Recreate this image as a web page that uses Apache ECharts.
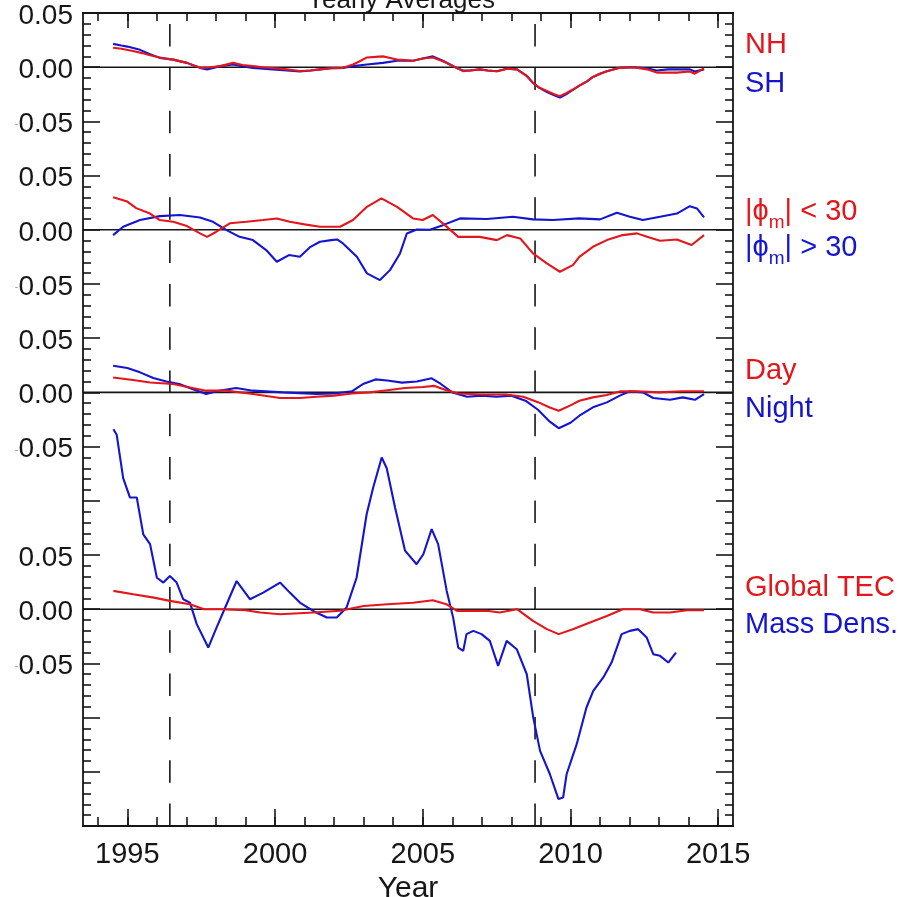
<!DOCTYPE html>
<html>
<head>
<meta charset="utf-8">
<script src="https://cdn.jsdelivr.net/npm/echarts@6/dist/echarts.min.js"></script>
<style>
  html, body { margin: 0; padding: 0; background: #fff; }
  #chart { width: 906px; height: 897px; }
</style>
</head>
<body>
<div id="chart"></div>
<script>
// ---- axis layout values ----
const yearRange = [1993.5, 2015.5];
const yearTicks = [1995, 2000, 2005, 2010, 2015];
const yearMinorTicks = [1994, 1995, 1996, 1997, 1998, 1999, 2000, 2001, 2002, 2003, 2004,
  2005, 2006, 2007, 2008, 2009, 2010, 2011, 2012, 2013, 2014, 2015];
const solarMinima = [1996.44, 2008.8];
// vertical offset of each stacked panel (top to bottom)
const panelOffsets = [0.70, 0.55, 0.40, 0.20];
const panelTickLabels = ['0.05', '0.00', '-0.05'];

// ---- panel 1: hemispheres ----
const nh = [[1994.52, 0.018], [1994.8, 0.017], [1995.19, 0.015], [1995.5, 0.013], [1995.77, 0.011],
  [1996.1, 0.009], [1996.3, 0.008], [1996.55, 0.007], [1997.02, 0.004], [1997.3, 0.001],
  [1997.5, -0.0006], [1997.8, 0.0], [1998.15, 0.001], [1998.58, 0.004], [1998.9, 0.002],
  [1999.25, 0.001], [1999.6, 0.0], [2000.0, -0.001], [2000.4, -0.002], [2000.84, -0.0035],
  [2001.2, -0.003], [2001.52, -0.002], [2001.9, -0.001], [2002.3, -0.0006], [2002.64, 0.0025],
  [2002.9, 0.006], [2003.11, 0.009], [2003.4, 0.0095], [2003.65, 0.010], [2003.9, 0.0085],
  [2004.13, 0.007], [2004.4, 0.0065], [2004.67, 0.006], [2005.0, 0.008], [2005.34, 0.009],
  [2005.68, 0.0055], [2005.95, 0.002], [2006.16, -0.0006], [2006.36, -0.0037], [2006.6, -0.003],
  [2006.93, -0.002], [2007.2, -0.003], [2007.51, -0.0037], [2007.85, -0.0015], [2008.19, -0.002],
  [2008.53, -0.0083], [2008.73, -0.0145], [2008.95, -0.019], [2009.2, -0.022], [2009.45, -0.025],
  [2009.64, -0.0267], [2009.85, -0.024], [2010.08, -0.0206], [2010.3, -0.017], [2010.56, -0.013],
  [2010.76, -0.009], [2011.0, -0.006], [2011.23, -0.0037], [2011.67, -0.0006], [2012.11, 0.0],
  [2012.59, -0.002], [2012.92, -0.005], [2013.3, -0.005], [2013.6, -0.005], [2014.04, -0.004],
  [2014.21, -0.006], [2014.52, -0.001]];
const sh = [[1994.52, 0.0215], [1994.8, 0.020], [1995.0, 0.019], [1995.43, 0.016], [1995.77, 0.012],
  [1996.1, 0.0086], [1996.55, 0.007], [1997.02, 0.004], [1997.46, -0.0006], [1997.7, -0.002],
  [1998.14, 0.001], [1998.58, 0.0025], [1998.9, 0.001], [1999.25, -0.0006], [1999.93, -0.002],
  [2000.4, -0.003], [2000.84, -0.004], [2001.2, -0.003], [2001.52, -0.002], [2001.9, -0.001],
  [2002.3, -0.0006], [2002.64, 0.001], [2003.11, 0.0025], [2003.65, 0.004], [2004.13, 0.006],
  [2004.67, 0.006], [2005.0, 0.008], [2005.34, 0.010], [2005.68, 0.006], [2005.95, 0.002],
  [2006.16, -0.001], [2006.36, -0.003], [2006.6, -0.003], [2006.93, -0.002], [2007.2, -0.003],
  [2007.51, -0.0037], [2007.85, -0.0015], [2008.19, -0.002], [2008.53, -0.0083], [2008.73, -0.0145],
  [2008.95, -0.019], [2009.2, -0.023], [2009.45, -0.026], [2009.64, -0.028], [2009.85, -0.025],
  [2010.08, -0.021], [2010.3, -0.017], [2010.56, -0.013], [2010.76, -0.009], [2011.0, -0.006],
  [2011.23, -0.0037], [2011.67, -0.0006], [2012.11, 0.0], [2012.59, -0.001], [2012.92, -0.003],
  [2013.3, -0.002], [2013.6, -0.002], [2014.04, -0.002], [2014.21, -0.004], [2014.52, -0.002]];

// ---- panel 2: magnetic latitude bands ----
const lowLat = [[1994.52, 0.030], [1995.0, 0.026], [1995.3, 0.020], [1995.77, 0.015], [1996.1, 0.009],
  [1996.55, 0.0074], [1997.02, 0.0034], [1997.46, -0.0033], [1997.7, -0.0065], [1998.0, -0.002],
  [1998.47, 0.006], [1999.03, 0.0074], [1999.6, 0.009], [2000.06, 0.0105], [2000.5, 0.0074],
  [2001.0, 0.005], [2001.52, 0.0028], [2002.2, 0.0028], [2002.64, 0.009], [2003.11, 0.0212],
  [2003.6, 0.029], [2004.13, 0.0212], [2004.67, 0.0105], [2005.0, 0.009], [2005.34, 0.0136],
  [2005.68, 0.0059], [2006.2, -0.0065], [2006.93, -0.0065], [2007.51, -0.0095], [2007.85, -0.0049],
  [2008.3, -0.008], [2008.73, -0.0218], [2009.2, -0.031], [2009.64, -0.0387], [2010.08, -0.0326],
  [2010.3, -0.0249], [2010.76, -0.0157], [2011.23, -0.0095], [2011.77, -0.0049], [2012.25, -0.0033],
  [2012.59, -0.0065], [2013.03, -0.0101], [2013.6, -0.0089], [2014.1, -0.014], [2014.52, -0.0049]];
const highLat = [[1994.52, -0.0049], [1994.86, 0.0028], [1995.43, 0.009], [1996.1, 0.0126],
  [1996.78, 0.0136], [1997.46, 0.0114], [1997.9, 0.0074], [1998.36, -0.0003], [1998.8, -0.0065],
  [1999.25, -0.0095], [1999.7, -0.0187], [2000.06, -0.0295], [2000.47, -0.0233], [2000.84, -0.0249],
  [2001.2, -0.0157], [2001.52, -0.011], [2001.9, -0.0095], [2002.1, -0.0089], [2002.3, -0.0126],
  [2002.77, -0.0249], [2003.11, -0.0402], [2003.55, -0.0464], [2003.89, -0.0372], [2004.23, -0.0218],
  [2004.46, -0.0034], [2004.8, 0.0003], [2005.24, 0.0], [2005.68, 0.0043], [2006.26, 0.0105],
  [2007.17, 0.0099], [2008.05, 0.012], [2008.73, 0.0096], [2009.4, 0.009], [2010.3, 0.0105],
  [2011.0, 0.0096], [2011.57, 0.0157], [2012.01, 0.012], [2012.45, 0.009], [2013.03, 0.012],
  [2013.6, 0.015], [2014.04, 0.0218], [2014.28, 0.0197], [2014.52, 0.0114]];

// ---- panel 3: local time ----
const day = [[1994.52, 0.0138], [1995.19, 0.0114], [1995.77, 0.0092], [1996.55, 0.0077],
  [1997.12, 0.0046], [1997.67, 0.0016], [1998.35, 0.0016], [1999.25, -0.0015], [2000.17, -0.0052],
  [2000.84, -0.0052], [2001.4, -0.004], [2002.0, -0.003], [2002.6, -0.001], [2003.2, 0.0],
  [2003.8, 0.002], [2004.4, 0.004], [2005.0, 0.005], [2005.4, 0.006], [2005.8, 0.002],
  [2006.2, -0.001], [2007.0, -0.002], [2007.8, -0.002], [2008.4, -0.004], [2008.9, -0.009],
  [2009.3, -0.014], [2009.6, -0.017], [2010.0, -0.012], [2010.3, -0.0077], [2010.76, -0.0046],
  [2011.23, -0.0024], [2011.67, 0.0009], [2012.25, 0.001], [2013.0, 0.0], [2013.8, 0.001],
  [2014.52, 0.001]];
const night = [[1994.52, 0.0246], [1995.0, 0.0225], [1995.43, 0.0185], [1995.88, 0.0133],
  [1996.32, 0.0101], [1996.76, 0.0077], [1997.2, 0.0031], [1997.67, -0.0015], [1998.1, 0.0016],
  [1998.68, 0.004], [1999.25, 0.0016], [2000.26, 0.0], [2001.4, -0.0015], [2002.0, -0.001],
  [2002.6, 0.001], [2003.0, 0.008], [2003.4, 0.012], [2003.8, 0.011], [2004.3, 0.009],
  [2004.8, 0.010], [2005.3, 0.013], [2005.6, 0.008], [2006.0, 0.0], [2006.5, -0.004],
  [2007.0, -0.003], [2007.5, -0.004], [2008.0, -0.003], [2008.5, -0.008], [2008.9, -0.016],
  [2009.3, -0.027], [2009.6, -0.033], [2010.0, -0.028], [2010.3, -0.0215], [2010.76, -0.0138],
  [2011.23, -0.0092], [2011.67, -0.003], [2012.01, 0.001], [2012.45, 0.0], [2012.8, -0.0052],
  [2013.37, -0.0068], [2013.8, -0.0046], [2014.21, -0.0068], [2014.52, -0.0015]];

// ---- panel 4: global TEC vs thermospheric mass density ----
const globalTec = [[1994.53, 0.0169], [1995.2, 0.0138], [1995.9, 0.0107], [1996.44, 0.0077],
  [1997.12, 0.0046], [1997.6, 0.0], [1998.14, 0.0], [1999.0, -0.001], [1999.5, -0.003],
  [2000.17, -0.0046], [2001.3, -0.003], [2002.2, -0.0015], [2003.0, 0.003], [2003.8, 0.0046],
  [2004.67, 0.006], [2005.34, 0.0083], [2005.8, 0.0046], [2006.16, -0.0015], [2007.17, -0.0015],
  [2007.6, -0.003], [2008.19, 0.0], [2008.73, -0.0108], [2009.2, -0.0184], [2009.6, -0.023],
  [2010.08, -0.0184], [2010.66, -0.0123], [2011.23, -0.0062], [2011.77, 0.0], [2012.35, 0.0],
  [2012.8, -0.003], [2013.37, -0.003], [2013.94, -0.001], [2014.52, -0.001]];
const massDensity = [[1994.53, 0.166], [1994.64, 0.161], [1994.86, 0.121], [1995.09, 0.103],
  [1995.32, 0.103], [1995.54, 0.069], [1995.77, 0.060], [1996.0, 0.029], [1996.22, 0.0246],
  [1996.44, 0.0307], [1996.67, 0.0246], [1996.89, 0.0092], [1997.12, 0.0061], [1997.35, -0.0138],
  [1997.74, -0.0354], [1998.02, -0.017], [1998.36, 0.0046], [1998.7, 0.026], [1999.15, 0.0092],
  [1999.6, 0.0153], [2000.17, 0.0246], [2000.5, 0.0153], [2000.84, 0.0061], [2001.29, -0.0016],
  [2001.75, -0.0077], [2002.09, -0.0077], [2002.42, 0.0015], [2002.76, 0.029], [2003.1, 0.0876],
  [2003.32, 0.112], [2003.61, 0.140], [2003.78, 0.130], [2004.06, 0.094], [2004.4, 0.054],
  [2004.79, 0.0415], [2005.02, 0.0507], [2005.3, 0.0738], [2005.52, 0.060], [2005.81, 0.0169],
  [2006.03, -0.008], [2006.2, -0.0354], [2006.37, -0.0384], [2006.48, -0.023], [2006.71, -0.020],
  [2006.99, -0.023], [2007.27, -0.0292], [2007.55, -0.0523], [2007.84, -0.0292], [2008.18, -0.0369],
  [2008.52, -0.060], [2008.74, -0.100], [2008.97, -0.1307], [2009.3, -0.152], [2009.59, -0.175],
  [2009.75, -0.1737], [2009.87, -0.152], [2010.21, -0.1245], [2010.54, -0.0907], [2010.77, -0.0753],
  [2011.11, -0.063], [2011.39, -0.0492], [2011.73, -0.023], [2012.01, -0.020], [2012.29, -0.0184],
  [2012.58, -0.0262], [2012.8, -0.0415], [2013.03, -0.043], [2013.31, -0.0492], [2013.57, -0.040]];

const RED = '#e3161c';
const BLUE = '#1515cf';
const INK = '#161616';
const FONT = '"Liberation Sans", Arial, sans-serif';

const panels = [
  { pair: [sh, nh], names: ['SH', 'NH'] },
  { pair: [highLat, lowLat], names: ['|φm| > 30', '|φm| < 30'] },
  { pair: [night, day], names: ['Night', 'Day'] },
  { pair: [massDensity, globalTec], names: ['Mass Dens.', 'Global TEC'] }
];

// y tick text: each panel shows +0.05 / 0.00 / -0.05 around its own zero
const tickText = {};
panelOffsets.forEach(off => {
  [0.05, 0, -0.05].forEach((d, i) => { tickText[(off + d).toFixed(2)] = panelTickLabels[i]; });
});

const shift = (data, off) => data.map(p => [p[0], p[1] + off]);

const series = [];
panelOffsets.forEach(off => {
  series.push({
    type: 'line', xAxisIndex: 0, yAxisIndex: 0, silent: true, symbol: 'none', z: 2,
    data: [[yearRange[0], off], [yearRange[1], off]],
    lineStyle: { color: INK, width: 1.6 }
  });
});
solarMinima.forEach(yr => {
  series.push({
    type: 'line', xAxisIndex: 0, yAxisIndex: 0, silent: true, symbol: 'none', z: 2,
    data: [[yr, 0], [yr, 0.75]],
    lineStyle: { color: INK, width: 1.6, type: [22.5, 20.8] }
  });
});
panels.forEach((p, i) => {
  [BLUE, RED].forEach((c, k) => {
    series.push({
      name: p.names[k], type: 'line', xAxisIndex: 0, yAxisIndex: 0, symbol: 'none', z: 3 + k,
      data: shift(p.pair[k], panelOffsets[i]),
      lineStyle: { color: c, width: 2.1 }
    });
  });
});

const frameLine = { show: true, onZero: false, lineStyle: { color: INK, width: 1.8 } };

function xAxisDef(position, ticks, len, withLabels) {
  return {
    type: 'value', position, min: yearRange[0], max: yearRange[1],
    axisLine: frameLine,
    axisTick: { show: true, inside: true, length: len, customValues: ticks,
      lineStyle: { color: INK, width: 1.6 } },
    axisLabel: withLabels ? {
      show: true, customValues: yearTicks, margin: 14, fontSize: 29, color: INK, fontFamily: FONT,
      formatter: v => String(v)
    } : { show: false },
    splitLine: { show: false }
  };
}

function yAxisDef(position, withLabels) {
  return {
    type: 'value', position, min: 0, max: 0.75, interval: 0.05,
    axisLine: frameLine,
    axisTick: { show: true, inside: true, length: 17, lineStyle: { color: INK, width: 1.6 } },
    minorTick: { show: true, splitNumber: 5, length: 8, lineStyle: { color: INK, width: 1.6 } },
    axisLabel: withLabels ? {
      show: true, margin: 10, fontSize: 28, color: INK, fontFamily: FONT,
      showMinLabel: true, showMaxLabel: true, padding: [6, 0, 0, 0],
      formatter: v => {
        const t = tickText[v.toFixed(2)];
        if (!t) return '';
        return t.charAt(0) === '-' ? '{m|-}' + t.slice(1) : t;
      },
      rich: { m: { fontSize: 11, color: '#9a9a9a' } }
    } : { show: false },
    splitLine: { show: false }
  };
}

const xa = xAxisDef('bottom', yearTicks, 17, true);
xa.name = 'Year';
xa.nameLocation = 'middle';
xa.nameGap = 46;
xa.nameTextStyle = { fontSize: 30, color: INK, fontFamily: FONT };

// captions to the right of each panel, vertically centred on the given pixel row;
// the {s|...} token is a lowered subscript
const caption = (text, y, color) => ({
  type: 'text', x: 745, y,
  style: {
    text, fill: color, font: '29px ' + FONT, verticalAlign: 'middle', align: 'left',
    lineHeight: 40,
    rich: { s: { fontSize: 19, lineHeight: 20, fill: color, fontFamily: FONT, verticalAlign: 'bottom' } }
  }
});

const option = {
  backgroundColor: '#ffffff',
  animation: false,
  title: {
    text: 'Yearly Averages', left: 302, top: -17,
    textStyle: { fontSize: 26, fontWeight: 'normal', color: INK, fontFamily: FONT }
  },
  grid: { left: 83, right: 173, top: 13, bottom: 71, outerBoundsMode: 'none', containLabel: false },
  xAxis: [
    xa,
    xAxisDef('bottom', yearMinorTicks, 9, false),
    xAxisDef('top', yearTicks, 15, false),
    xAxisDef('top', yearMinorTicks, 8, false)
  ],
  yAxis: [yAxisDef('left', true), yAxisDef('right', false)],
  series,
  graphic: [
    caption('NH', 45, RED),
    caption('SH', 84, BLUE),
    caption('|ϕ{s|m}| < 30', 212, RED),
    caption('|ϕ{s|m}| > 30', 248, BLUE),
    caption('Day', 371, RED),
    caption('Night', 409, BLUE),
    caption('Global TEC', 588, RED),
    caption('Mass Dens.', 625, BLUE)
  ]
};

const chart = echarts.init(document.getElementById('chart'));
chart.setOption(option);
</script>
</body>
</html>
